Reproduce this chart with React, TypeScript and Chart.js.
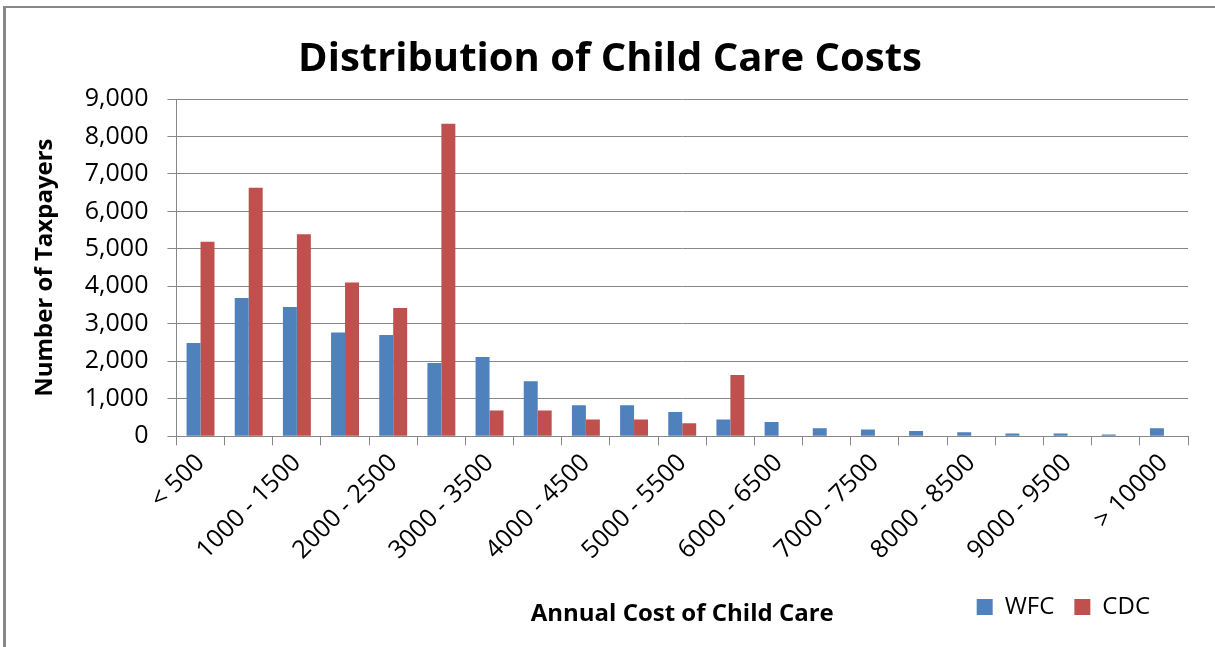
import React, { useEffect, useRef } from "react";
import { Chart, registerables } from "chart.js";

Chart.register(...registerables);

const categories = [
  "< 500", "500 - 1000", "1000 - 1500", "1500 - 2000", "2000 - 2500",
  "2500 - 3000", "3000 - 3500", "3500 - 4000", "4000 - 4500", "4500 - 5000",
  "5000 - 5500", "5500 - 6000", "6000 - 6500", "6500 - 7000", "7000 - 7500",
  "7500 - 8000", "8000 - 8500", "8500 - 9000", "9000 - 9500", "9500 - 10000",
  "> 10000",
];

const wfcValues = [
  2490, 3690, 3450, 2770, 2700, 1955, 2115, 1466, 826, 826,
  650, 445, 383, 213, 178, 142, 107, 71, 71, 44, 213,
];

const cdcValues = [
  5190, 6630, 5390, 4100, 3420, 8340, 685, 685, 445, 445,
  347, 1636, 0, 0, 0, 0, 0, 0, 0, 0, 0,
];

const yTicks = { min: 0, max: 9000, step: 1000 };

const FONT = "'Open Sans', sans-serif";
const GRID = "#878787";

const boxShift = {
  id: "boxShift",
  afterLayout(chart: any) {
    if (chart.legend) chart.legend.right -= 18;
    if (chart.titleBlock) chart.titleBlock.left += 22;
  },
};

export default function App() {
  const ref = useRef<HTMLCanvasElement | null>(null);

  useEffect(() => {
    document.body.style.margin = "0";
    const canvas = ref.current;
    if (!canvas) return;
    const chart = new Chart(canvas, {
      type: "bar",
      data: {
        labels: categories,
        datasets: [
          {
            label: "WFC",
            data: wfcValues,
            backgroundColor: "#4F81BD",
            borderWidth: 0,
            barPercentage: 1,
            categoryPercentage: 0.58,
          },
          {
            label: "CDC",
            data: cdcValues,
            backgroundColor: "#C0504D",
            borderWidth: 0,
            barPercentage: 1,
            categoryPercentage: 0.58,
          },
        ],
      },
      options: {
        responsive: false,
        animation: false,
        devicePixelRatio: 1,
        layout: { padding: { left: 10, right: 27, top: 0, bottom: 18 } },
        plugins: {
          title: {
            display: true,
            text: "Distribution of Child Care Costs",
            color: "#000",
            font: { family: FONT, size: 40, weight: "bold", lineHeight: 1.2 },
            padding: { top: 36, bottom: 15 },
          },
          legend: {
            position: "bottom",
            align: "end",
            labels: {
              color: "#000",
              font: { family: FONT, size: 24 },
              boxWidth: 16,
              boxHeight: 16,
              padding: 20,
            },
          },
          tooltip: { enabled: false },
        },
        scales: {
          x: {
            grid: {
              display: true,
              drawOnChartArea: false,
              drawTicks: true,
              tickLength: 9,
              color: GRID,
              offset: true,
            },
            border: { color: GRID, width: 1 },
            ticks: {
              autoSkip: false,
              minRotation: 45,
              maxRotation: 45,
              padding: 3,
              color: "#000",
              font: { family: FONT, size: 25 },
              callback: function (_v: any, index: number) {
                return index % 2 === 0 ? categories[index] : "";
              },
            },
            title: {
              display: true,
              text: "Annual Cost of Child Care",
              color: "#000",
              font: { family: FONT, size: 24, weight: "bold", lineHeight: 1.2 },
              padding: { top: 32, bottom: -54 },
            },
          },
          y: {
            min: yTicks.min,
            max: yTicks.max,
            grid: { color: GRID, tickLength: 9, drawTicks: true },
            border: { color: GRID, width: 1 },
            ticks: {
              stepSize: yTicks.step,
              padding: 19,
              color: "#000",
              font: { family: FONT, size: 25 },
            },
            title: {
              display: true,
              text: "Number of Taxpayers",
              color: "#000",
              font: { family: FONT, size: 24, weight: "bold", lineHeight: 1.2 },
              padding: { top: 21, bottom: 6 },
            },
          },
        },
      },
      plugins: [boxShift],
    });
    return () => chart.destroy();
  }, []);

  return (
    <div style={{ position: "relative", width: 1215, height: 647, overflow: "hidden", background: "#fff" }}>
      <canvas ref={ref} width={1215} height={647} style={{ display: "block" }} />
      <div
        style={{
          position: "absolute",
          left: 3,
          top: 6,
          right: -5,
          bottom: -5,
          borderTop: "2px solid #888",
          borderLeft: "3px solid #888",
          pointerEvents: "none",
        }}
      />
    </div>
  );
}
